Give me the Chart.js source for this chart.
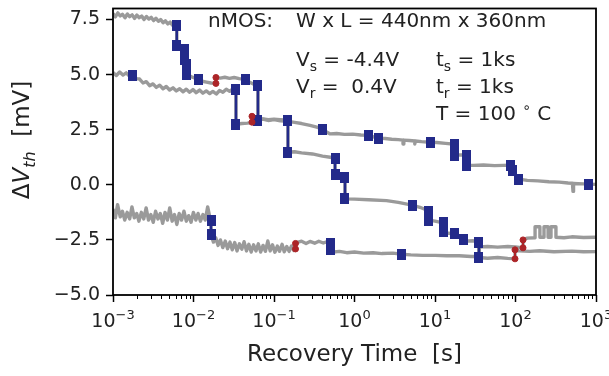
<!DOCTYPE html>
<html>
<head>
<meta charset="utf-8">
<script src="https://cdn.jsdelivr.net/npm/chart.js@4.4.1/dist/chart.umd.min.js"></script>
<style>
  html, body { margin: 0; padding: 0; background: #fff; }
  #wrap { width: 609px; height: 376px; }
</style>
</head>
<body>
<div id="wrap"><canvas id="chart" width="609" height="376"></canvas></div>
<script>
/* ============================================
   dVth recovery traces, nMOS
   ============================================ */

// axes
const xTicks = [1e-3, 1e-2, 1e-1, 1, 10, 100, 1000];
const xTickExp = ['−3', '−2', '−1', '0', '1', '2', '3'];
const yTicks = [-5, -2.5, 0, 2.5, 5, 7.5];

// gray trace 1 (starts at the top)
const trace1T = [0.00100, 0.00107, 0.00115, 0.00123, 0.00131, 0.00141, 0.00151, 0.00161, 0.00173, 0.00185,
  0.00198, 0.00212, 0.00227, 0.00243, 0.00260, 0.00279, 0.00298, 0.00319, 0.00342, 0.00366,
  0.00391, 0.00419, 0.00448, 0.00480, 0.00513, 0.00549, 0.00588, 0.0062, 0.0062, 0.0070,
  0.0077, 0.0077, 0.0079, 0.0081, 0.0081, 0.0095, 0.0114, 0.0128, 0.0145, 0.0165,
  0.0190, 0.0190, 0.0215, 0.0245, 0.0280, 0.0320, 0.0370, 0.0437, 0.0500, 0.0570,
  0.0632, 0.0632, 0.072, 0.085, 0.100, 0.120, 0.149, 0.180, 0.220, 0.280,
  0.340, 0.406, 0.450, 0.500, 0.600, 0.750, 0.950, 1.20, 1.51, 1.72,
  1.96, 2.40, 2.90, 3.50, 4.00, 4.01, 4.10, 4.8, 5.6, 5.61,
  5.7, 6.8, 8.67, 10.5, 13.5, 17.7, 17.7, 20.5, 24.3, 24.3,
  30, 40, 55, 70, 85.5, 90.6, 110, 140, 190, 260,
  350, 450, 510, 518, 526, 600, 700, 796, 1000];
const trace1V = [7.78, 7.62, 7.80, 7.66, 7.74, 7.58, 7.75, 7.63, 7.71, 7.55,
  7.70, 7.58, 7.66, 7.50, 7.64, 7.52, 7.60, 7.45, 7.56, 7.42,
  7.50, 7.35, 7.44, 7.30, 7.38, 7.24, 7.30, 7.23, 6.30, 6.22,
  6.14, 5.69, 5.60, 5.48, 5.01, 4.90, 4.79, 4.70, 4.66, 4.62,
  4.60, 4.87, 4.84, 4.88, 4.83, 4.87, 4.82, 4.79, 4.65, 4.55,
  4.51, 2.93, 2.98, 2.92, 2.96, 2.90, 2.88, 2.83, 2.78, 2.70,
  2.62, 2.52, 2.40, 2.31, 2.33, 2.29, 2.30, 2.26, 2.25, 2.18,
  2.12, 2.10, 2.07, 2.05, 2.03, 1.85, 2.03, 2.01, 1.99, 1.85,
  1.99, 1.96, 1.93, 1.92, 1.88, 1.84, 1.35, 1.35, 1.35, 0.89,
  0.88, 0.90, 0.87, 0.88, 0.89, 0.67, 0.26, 0.20, 0.18, 0.14,
  0.12, 0.08, 0.07, -0.30, 0.06, 0.05, 0.04, 0.03, 0.02];

// gray trace 2 (starts near 5 mV)
const trace2T = [0.00100, 0.00110, 0.00121, 0.00133, 0.00146, 0.00161, 0.00177, 0.00195, 0.00214, 0.00236,
  0.00259, 0.00285, 0.00314, 0.00345, 0.00380, 0.00418, 0.00459, 0.00505, 0.00556, 0.00612,
  0.00673, 0.00740, 0.00814, 0.00895, 0.00985, 0.0108, 0.0119, 0.0131, 0.0144, 0.0159,
  0.0174, 0.0192, 0.0211, 0.0232, 0.0255, 0.0281, 0.0309, 0.0337, 0.0337, 0.040,
  0.047, 0.0533, 0.0533, 0.060, 0.070, 0.085, 0.100, 0.120, 0.149, 0.149,
  0.180, 0.220, 0.300, 0.400, 0.500, 0.573, 0.573, 0.650, 0.762, 0.762,
  1.0, 1.5, 2.5, 3.5, 5.18, 6.5, 8.41, 8.41, 10.0, 12.6,
  12.6, 15.0, 17.7, 22.3, 26.0, 30.0, 35.2, 35.2, 45, 60,
  80, 98.6, 98.6, 110, 150, 200, 300, 500, 700, 1000];
const trace2V = [5.10, 4.96, 5.12, 4.98, 5.08, 4.92, 4.97, 4.82, 4.80, 4.62,
  4.68, 4.50, 4.58, 4.42, 4.52, 4.36, 4.46, 4.30, 4.40, 4.26,
  4.36, 4.22, 4.34, 4.20, 4.32, 4.18, 4.30, 4.16, 4.26, 4.14,
  4.24, 4.12, 4.28, 4.20, 4.34, 4.24, 4.36, 4.33, 2.75, 2.78,
  2.80, 2.84, 3.11, 3.05, 3.00, 2.95, 2.98, 2.96, 2.93, 1.48,
  1.50, 1.45, 1.40, 1.30, 1.25, 1.20, 0.45, 0.40, 0.35, -0.64,
  -0.65, -0.68, -0.72, -0.80, -0.92, -1.02, -1.19, -1.60, -1.65, -1.73,
  -2.14, -2.20, -2.23, -2.50, -2.55, -2.54, -2.60, -3.30, -3.33, -3.30,
  -3.34, -3.36, -2.95, -3.00, -3.02, -2.99, -3.04, -3.01, -3.04, -3.03];

// gray trace 3 (noisy, bottom left)
const trace3T = [0.00100, 0.00107, 0.00114, 0.00123, 0.00131, 0.00140, 0.00150, 0.00161, 0.00172, 0.00184,
  0.00197, 0.00210, 0.00225, 0.00241, 0.00258, 0.00276, 0.00295, 0.00316, 0.00338, 0.00362,
  0.00387, 0.00414, 0.00443, 0.00474, 0.00507, 0.00543, 0.00581, 0.00621, 0.00665, 0.00711,
  0.00761, 0.00814, 0.00871, 0.00932, 0.00997, 0.0107, 0.0114, 0.0122, 0.0131, 0.0140,
  0.0150, 0.0160, 0.0165,
  0.0165, 0.0177, 0.0189, 0.0202, 0.0216, 0.0231, 0.0248, 0.0265, 0.0284, 0.0303,
  0.0325, 0.0347, 0.0372, 0.0398, 0.0425, 0.0455, 0.0487, 0.0521, 0.0558, 0.0597,
  0.0639, 0.0683, 0.0731, 0.0782, 0.0837, 0.0896, 0.0958, 0.1025, 0.110, 0.117,
  0.126, 0.134, 0.144, 0.154, 0.165, 0.176, 0.185,
  0.185, 0.200, 0.220, 0.250, 0.280, 0.320, 0.360, 0.410, 0.450, 0.497,
  0.497, 0.55, 0.65, 0.80, 1.0, 1.3, 1.7, 2.2, 3.0, 3.89, 5.0, 7.0, 10, 14, 20, 28, 35.2,
  35.2, 45, 60, 80, 100, 124,
  124, 140, 175, 175, 201, 201, 226, 226, 254, 254, 276, 276, 318, 318, 400, 500, 700, 1000];
const trace3V = [-1.10, -1.50, -0.90, -1.45, -1.20, -1.60, -1.25, -1.55, -1.00, -1.50,
  -1.30, -1.65, -1.25, -1.55, -1.05, -1.60, -1.35, -1.70, -1.20, -1.55,
  -1.30, -1.75, -1.25, -1.60, -1.05, -1.65, -1.35, -1.80, -1.30, -1.60,
  -1.20, -1.65, -1.40, -1.70, -1.25, -1.60, -1.30, -1.65, -1.35, -1.60,
  -1.00, -1.50, -1.60,
  -2.27, -2.60, -2.40, -2.75, -2.50, -2.85, -2.55, -2.90, -2.60, -2.95,
  -2.62, -3.00, -2.68, -2.92, -2.58, -3.00, -2.70, -3.05, -2.72, -3.00,
  -2.68, -3.05, -2.75, -3.02, -2.55, -3.00, -2.72, -3.06, -2.78, -3.02,
  -2.70, -3.04, -2.80, -3.02, -2.78, -2.98, -2.91,
  -2.66, -2.60, -2.56, -2.66, -2.57, -2.65, -2.56, -2.64, -2.59, -2.65,
  -2.95, -3.05, -3.02, -3.08, -3.05, -3.10, -3.08, -3.12, -3.10, -3.15, -3.18, -3.20, -3.20, -3.22, -3.22, -3.25, -3.25,
  -2.82, -2.80, -2.83, -2.80, -2.82, -2.86,
  -2.50, -2.42, -2.40, -1.90, -1.90, -2.38, -2.38, -1.90, -1.90, -2.38, -2.38, -1.90, -1.90, -2.38, -2.40, -2.36, -2.39, -2.38];

// blue: emission steps (from -> to at one time) and single marks
const blueStepT = [0.0062, 0.0077, 0.0081, 0.0165, 0.0337, 0.0632, 0.149, 0.497, 0.573, 0.762, 8.41, 12.6, 17.7, 24.3, 35.2];
const blueStepFrom = [7.23, 6.14, 5.48, -1.60, 4.33, 4.51, 2.93, -2.65, 1.20, 0.35, -1.19, -1.73, 1.84, 1.35, -2.60];
const blueStepTo = [6.30, 5.69, 5.01, -2.27, 2.75, 2.93, 1.48, -2.95, 0.45, -0.64, -1.60, -2.14, 1.35, 0.89, -3.30];
const blueDotT = [0.00177, 0.0114, 0.0437, 0.406, 1.51, 1.96, 3.89, 5.18, 8.67, 17.7, 22.3, 85.5, 90.6, 110, 796];
const blueDotV = [4.97, 4.79, 4.79, 2.52, 2.25, 2.12, -3.15, -0.92, 1.93, -2.23, -2.50, 0.89, 0.67, 0.26, 0.03];

// red: capture steps
const redStepT = [0.019, 0.0533, 0.185, 98.6, 124];
const redStepFrom = [4.60, 2.84, -2.91, -3.36, -2.86];
const redStepTo = [4.87, 3.11, -2.66, -2.95, -2.50];

const GRAY = '#9a9a9a';
const BLUE = '#232a8a';
const RED = '#ac2528';
const FONT = '"DejaVu Sans", sans-serif';

// slightly tall square marker like the original
const blueMark = document.createElement('canvas');
blueMark.width = 9; blueMark.height = 11;
(function () {
  const c = blueMark.getContext('2d');
  c.fillStyle = BLUE;
  c.fillRect(0, 0, 9, 11);
})();

function zip(ts, vs) {
  return ts.map((t, i) => ({ x: t, y: vs[i] }));
}

function steps(ts, from, to) {
  const out = [];
  ts.forEach((t, i) => {
    out.push({ x: t, y: from[i] }, { x: t, y: to[i] }, { x: t, y: null });
  });
  return out;
}

function grayTrace(ts, vs) {
  return {
    data: zip(ts, vs), borderColor: GRAY, borderWidth: 3.4,
    pointRadius: 0, tension: 0, order: 3, borderJoinStyle: 'round'
  };
}

// text with sub/superscripts: parts = [[text, 'sub'|'sup'|null, italic]]
function drawRich(ctx, x, y, parts, size) {
  let cx = x;
  parts.forEach(([txt, kind, it]) => {
    const fs = kind ? Math.round(size * 0.7) : size;
    ctx.font = `${it ? 'italic ' : ''}${fs}px ${FONT}`;
    const dy = kind === 'sub' ? size * 0.25 : kind === 'sup' ? -size * 0.42 : 0;
    ctx.fillText(txt, cx, y + dy);
    cx += ctx.measureText(txt).width;
  });
  return cx - x;
}

function richWidth(ctx, parts, size) {
  let w = 0;
  parts.forEach(([txt, kind, it]) => {
    const fs = kind ? Math.round(size * 0.7) : size;
    ctx.font = `${it ? 'italic ' : ''}${fs}px ${FONT}`;
    w += ctx.measureText(txt).width;
  });
  return w;
}

const framePlugin = {
  id: 'frame',
  afterDraw(chart) {
    const { ctx, chartArea: a, scales } = chart;
    const xs = scales.x;
    ctx.save();
    // box
    ctx.strokeStyle = '#000';
    ctx.lineWidth = 1.8;
    ctx.strokeRect(a.left, a.top, a.right - a.left, a.bottom - a.top);

    // minor ticks on the log axis
    ctx.lineWidth = 1;
    ctx.beginPath();
    for (let d = 0; d < xTicks.length - 1; d++) {
      for (let k = 2; k <= 9; k++) {
        const px = Math.round(xs.getPixelForValue(xTicks[d] * k)) + 0.5;
        ctx.moveTo(px, a.bottom);
        ctx.lineTo(px, a.bottom + 4);
      }
    }
    ctx.stroke();

    // x tick labels 10^n
    ctx.fillStyle = '#222';
    ctx.textBaseline = 'alphabetic';
    ctx.textAlign = 'left';
    xTicks.forEach((v, i) => {
      const parts = [['10'], [xTickExp[i], 'sup']];
      const w = richWidth(ctx, parts, 19);
      drawRich(ctx, xs.getPixelForValue(v) - w / 2, 327, parts, 19);
    });

    // y axis title
    ctx.save();
    const yParts = [['Δ'], ['V', null, true], ['th', 'sub', true], ['  [mV]']];
    ctx.translate(29, 140);
    ctx.rotate(-Math.PI / 2);
    const yw = richWidth(ctx, yParts, 23);
    drawRich(ctx, -yw / 2, 0, yParts, 23);
    ctx.restore();

    // annotation
    drawRich(ctx, 208, 27, [['nMOS:']], 20);
    drawRich(ctx, 296, 27, [['W x L = 440nm x 360nm']], 20);
    drawRich(ctx, 296, 66, [['V'], ['s', 'sub'], [' = -4.4V']], 20);
    drawRich(ctx, 436, 66, [['t'], ['s', 'sub'], [' = 1ks']], 20);
    drawRich(ctx, 296, 93, [['V'], ['r', 'sub'], [' =  0.4V']], 20);
    drawRich(ctx, 436, 93, [['t'], ['r', 'sub'], [' = 1ks']], 20);
    drawRich(ctx, 436, 120, [['T = 100 '], ['∘', 'sup'], [' C']], 20);
    ctx.restore();
  }
};

Chart.defaults.font.family = FONT;
Chart.defaults.color = '#222';

new Chart(document.getElementById('chart'), {
  type: 'line',
  data: {
    datasets: [
      {
        data: steps(redStepT, redStepFrom, redStepTo),
        borderColor: RED, backgroundColor: RED, borderWidth: 2,
        pointStyle: 'circle', pointRadius: 3, pointBorderWidth: 1,
        spanGaps: false, order: 1
      },
      {
        data: steps(blueStepT, blueStepFrom, blueStepTo),
        borderColor: BLUE, backgroundColor: BLUE, borderWidth: 2.5,
        pointStyle: blueMark, pointRadius: 6,
        spanGaps: false, order: 2
      },
      {
        data: zip(blueDotT, blueDotV), showLine: false,
        borderColor: BLUE, backgroundColor: BLUE,
        pointStyle: blueMark, pointRadius: 6, order: 2
      },
      grayTrace(trace1T, trace1V),
      grayTrace(trace2T, trace2V),
      grayTrace(trace3T, trace3V)
    ]
  },
  options: {
    responsive: false,
    animation: false,
    devicePixelRatio: 1,
    layout: { padding: { top: 5, right: 13, left: 0, bottom: 0 } },
    plugins: { legend: { display: false }, tooltip: { enabled: false } },
    scales: {
      x: {
        type: 'logarithmic', min: 1e-3, max: 1e3,
        afterBuildTicks: s => { s.ticks = xTicks.map(v => ({ value: v })); },
        afterFit: s => { s.height = 81; s.paddingLeft = 0; s.paddingRight = 0; },
        ticks: { callback: () => '', autoSkip: false, maxRotation: 0 },
        grid: { drawOnChartArea: false, tickLength: 7, tickWidth: 1.5, tickColor: '#000' },
        border: { display: false },
        title: {
          display: true, text: 'Recovery Time  [s]', color: '#222',
          font: { size: 23, family: FONT }, padding: { top: 0, bottom: 7 }
        }
      },
      y: {
        min: -5, max: 8,
        afterBuildTicks: s => { s.ticks = yTicks.map(v => ({ value: v })); },
        afterFit: s => { s.width = 113; s.paddingTop = 0; s.paddingBottom = 0; },
        ticks: {
          callback: v => v.toFixed(1).replace('-', '−'),
          font: { size: 19, family: FONT }, color: '#222', padding: 6
        },
        grid: { drawOnChartArea: false, tickLength: 7, tickWidth: 1.5, tickColor: '#000' },
        border: { display: false }
      }
    }
  },
  plugins: [framePlugin]
});
</script>
</body>
</html>
